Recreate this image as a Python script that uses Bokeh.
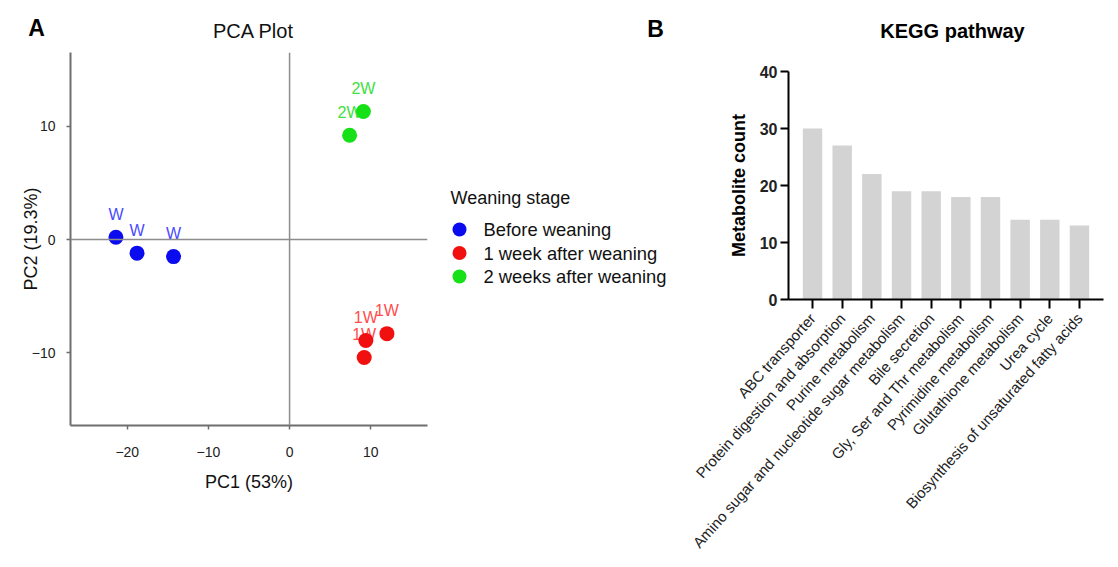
import math
from bokeh.plotting import figure
from bokeh.models import ColumnDataSource, Range1d, FixedTicker, Span, FactorRange
from bokeh.layouts import row, column
from bokeh.embed import file_html
from bokeh.resources import INLINE
from bokeh.core.properties import value

FONT = "Liberation Sans"

# ---------------- Panel A data (PCA) ----------------
pc1 = [-21.4, -18.8, -14.3, 9.4, 9.2, 12.0, 7.4, 9.1]
pc2 = [0.2, -1.2, -1.5, -8.9, -10.4, -8.3, 9.2, 11.3]
sample_code = ["W", "W", "W", "1W", "1W", "1W", "2W", "2W"]
stage_codes = ["W", "1W", "2W"]
stage_names = ["Before weaning", "1 week after weaning", "2 weeks after weaning"]
pc1_ticks = [-20, -10, 0, 10]
pc2_ticks = [-10, 0, 10]

# ---------------- Panel B data (KEGG) ----------------
pathways = [
    "ABC transporter",
    "Protein digestion and absorption",
    "Purine metabolism",
    "Amino sugar and nucleotide sugar metabolism",
    "Bile secretion",
    "Gly, Ser and Thr metabolism",
    "Pyrimidine metabolism",
    "Glutathione metabolism",
    "Urea cycle",
    "Biosynthesis of unsaturated fatty acids",
]
metabolite_counts = [30, 27, 22, 19, 19, 18, 18, 14, 14, 13]
count_ticks = [0, 10, 20, 30, 40]

# ---------------- titles ----------------
panel_letters = ["A", "B"]
panel_titles = ["PCA Plot", "KEGG pathway"]

# ---------------- styles ----------------
point_color = {"W": "#0b0bf0", "1W": "#f01010", "2W": "#16e016"}
text_color = {"W": "#4a4aff", "1W": "#ff4d4d", "2W": "#3fe03f"}
AX_GRAY = "#6e6e6e"
W_TOTAL = 1116
TOP_H = 45
H = 566 - TOP_H

def minus(v):
    return str(v).replace("-", "\u2212")

def blank(width, height, y_flip=True):
    p = figure(width=width, height=height, x_range=Range1d(0, width),
               y_range=Range1d(height, 0) if y_flip else Range1d(0, height),
               output_backend="svg", toolbar_location=None, min_border=0,
               x_axis_type=None, y_axis_type=None)
    p.outline_line_color = None
    p.grid.visible = False
    return p

# ================= Title strip (panel letters + titles) =================
pT = blank(W_TOTAL, TOP_H)
pT.text(x=[36, 655], y=[27, 28], text=panel_letters, text_align="center", text_baseline="middle",
        text_font=value(FONT), text_font_size="23px", text_font_style="bold", text_color="#000000")
pT.text(x=[253], y=[30], text=[panel_titles[0]], text_align="center", text_baseline="middle",
        text_font=value(FONT), text_font_size="20px", text_color="#111111")
pT.text(x=[952], y=[30], text=[panel_titles[1]], text_align="center", text_baseline="middle",
        text_font=value(FONT), text_font_size="20px", text_font_style="bold", text_color="#000000")

# ================= Figure A =================
pA = figure(width=437, height=H, x_range=Range1d(-27, 17), y_range=Range1d(-16.4, 16.5),
            output_backend="svg", toolbar_location=None,
            min_border_left=70, min_border_right=10, min_border_top=52 - TOP_H,
            min_border_bottom=566 - 425)
pA.outline_line_color = None
pA.grid.visible = False

pA.add_layout(Span(location=0, dimension="height", line_color="#8c8c8c", line_width=1.5))
pA.add_layout(Span(location=0, dimension="width", line_color="#8c8c8c", line_width=1.5))

srcA = ColumnDataSource(dict(
    x=pc1, y=pc2, code=sample_code,
    pcol=[point_color[c] for c in sample_code],
    tcol=[text_color[c] for c in sample_code],
))
pA.text(x="x", y="y", text="code", source=srcA, y_offset=-23, text_align="center",
        text_baseline="middle", text_font_size="16px", text_color="tcol",
        text_font=value(FONT))
pA.scatter(x="x", y="y", source=srcA, size=15, fill_color="pcol", line_color=None)

pA.xaxis.ticker = FixedTicker(ticks=pc1_ticks)
pA.yaxis.ticker = FixedTicker(ticks=pc2_ticks)
pA.xaxis.major_label_overrides = {t: minus(t) for t in pc1_ticks}
pA.yaxis.major_label_overrides = {t: minus(t) for t in pc2_ticks}
pA.xaxis.axis_label = "PC1 (53%)"
pA.yaxis.axis_label = "PC2 (19.3%)"
for ax in (pA.xaxis, pA.yaxis):
    ax.axis_line_color = AX_GRAY
    ax.axis_line_width = 2
    ax.major_tick_line_color = AX_GRAY
    ax.major_tick_line_width = 1.5
    ax.major_tick_out = 4
    ax.major_tick_in = 0
    ax.minor_tick_line_color = None
    ax.major_label_text_font = FONT
    ax.major_label_text_font_size = "14px"
    ax.major_label_text_color = "#222222"
    ax.axis_label_text_font = FONT
    ax.axis_label_text_font_size = "18px"
    ax.axis_label_text_font_style = "normal"
    ax.axis_label_text_color = "#111111"
pA.xaxis.major_label_standoff = 17
pA.yaxis.major_label_standoff = 11
pA.xaxis.axis_label_standoff = 12
pA.yaxis.axis_label_standoff = -12

# ================= Legend column =================
pL = blank(243, H)
title_y = 197 - TOP_H
item_y = [title_y + 32 + 23.5 * i for i in range(len(stage_names))]
pL.text(x=[13], y=[title_y], text=["Weaning stage"], text_align="left", text_baseline="middle",
        text_font=value(FONT), text_font_size="18px", text_color="#111111")
srcL = ColumnDataSource(dict(
    y=item_y, name=stage_names,
    col=[point_color[c] for c in stage_codes],
    gx=[22] * len(stage_names), tx=[46] * len(stage_names)))
pL.scatter(x="gx", y="y", source=srcL, size=14, fill_color="col", line_color=None)
pL.text(x="tx", y="y", text="name", source=srcL, text_align="left", text_baseline="middle",
        text_font=value(FONT), text_font_size="18.4px", text_color="#111111")

# ================= Figure B =================
pB = figure(width=W_TOTAL - 437 - 243, height=H,
            x_range=FactorRange(factors=pathways, range_padding=0.31, range_padding_units="absolute"),
            y_range=Range1d(0, 40),
            output_backend="svg", toolbar_location=None,
            min_border_left=108, min_border_right=13, min_border_top=71 - TOP_H,
            min_border_bottom=566 - 299)
pB.outline_line_color = None
pB.grid.visible = False

srcB = ColumnDataSource(dict(pathway=pathways, count=metabolite_counts))
pB.vbar(x="pathway", top="count", source=srcB, width=0.655, fill_color="#d3d3d3", line_color=None)

pB.yaxis.ticker = FixedTicker(ticks=count_ticks)
pB.yaxis.axis_label = "Metabolite count"
for ax in (pB.xaxis, pB.yaxis):
    ax.axis_line_color = "#000000"
    ax.axis_line_width = 2
    ax.major_tick_line_color = "#000000"
    ax.major_tick_line_width = 2
    ax.major_tick_in = 0
    ax.minor_tick_line_color = None
    ax.axis_label_text_font = FONT
pB.yaxis.major_tick_out = 8
pB.yaxis.major_label_standoff = 3
pB.yaxis.major_label_text_font = FONT
pB.yaxis.major_label_text_font_size = "16px"
pB.yaxis.major_label_text_font_style = "bold"
pB.yaxis.major_label_text_color = "#222222"
pB.yaxis.axis_label_text_font_size = "18px"
pB.yaxis.axis_label_text_font_style = "bold"
pB.yaxis.axis_label_text_color = "#000000"
pB.yaxis.axis_label_standoff = 8
pB.xaxis.major_tick_out = 9
pB.xaxis.major_label_standoff = 7
pB.xaxis.major_label_orientation = 0.84
pB.xaxis.major_label_text_font = FONT
pB.xaxis.major_label_text_font_size = "15px"
pB.xaxis.major_label_text_color = "#222222"

layout = column(row(pT), row(column(pA), column(pL), column(pB)))
open("out.html", "w").write(file_html(layout, INLINE))
